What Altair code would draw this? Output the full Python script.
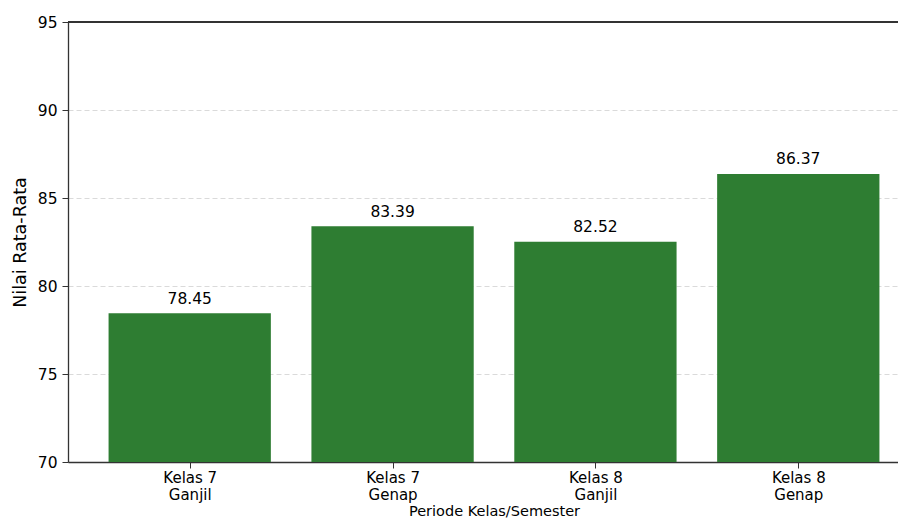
import altair as alt
import pandas as pd
import json

periods = ["Kelas 7\nGanjil", "Kelas 7\nGenap", "Kelas 8\nGanjil", "Kelas 8\nGenap"]
scores = [78.45, 83.39, 82.52, 86.37]
y_ticks = [70, 75, 80, 85, 90, 95]

BAR_W = 0.8
df = pd.DataFrame({"periode": periods, "nilai": scores})
df["idx"] = range(len(periods))
df["left"] = df["idx"] - BAR_W / 2
df["right"] = df["idx"] + BAR_W / 2

FONT = "DejaVu Sans"
W = 830        # visible plot width (the original figure is cut at the right edge)
FULL_W = 852   # full axis length of the original figure
H = 440
x_min = -0.6
x_max_full = len(periods) - 1 + 0.6
x_max = x_min + (x_max_full - x_min) * W / FULL_W

label_lines = json.dumps([p.split("\n") for p in periods])

LABEL_FS = 15.5
TITLE_FS = 17.5

x_scale = alt.Scale(domain=[x_min, x_max], nice=False, zero=False)
x_axis = alt.Axis(
    title="Periode Kelas/Semester",
    values=list(range(len(periods))),
    labelExpr=f"{label_lines}[datum.value]",
    labelAngle=0,
    labelLineHeight=17.5,
    labelFontSize=15,
    labelPadding=2,
    labelFlush=False,
    labelOverlap=False,
    titleFontSize=14.5,
    titleX=(FULL_W / 2),
    titleY=53,
    titleBaseline="alphabetic",
    grid=False,
)
y_enc = alt.Y(
    "nilai:Q",
    scale=alt.Scale(domain=[70, 95], nice=False, zero=False),
    axis=alt.Axis(
        title="Nilai Rata-Rata",
        values=y_ticks,
        format="d",
        labelFontSize=LABEL_FS,
        labelPadding=5,
        titleFontSize=TITLE_FS,
        titleX=-48,
        titleY=H / 2,
        titleAngle=-90,
        titleAlign="center",
        titleBaseline="middle",
        grid=True,
        gridDash=[5, 3],
        gridColor="#d0d0d0",
        gridWidth=0.8,
    ),
)

bars = alt.Chart(df).mark_bar(color="#2e7d32").encode(
    x=alt.X("left:Q", scale=x_scale, axis=x_axis),
    x2="right:Q",
    y=y_enc,
    y2=alt.datum(70),
)
labels = alt.Chart(df).mark_text(
    baseline="alphabetic", dy=-9.5, fontSize=LABEL_FS, font=FONT, color="black"
).encode(
    x=alt.X("idx:Q", scale=x_scale),
    y=alt.Y("nilai:Q"),
    text=alt.Text("nilai:Q", format=".2f"),
)
top = alt.Chart(df).mark_rule(color="#333333", strokeWidth=1.3).encode(
    x=alt.value(0), x2=alt.value(W), y=alt.value(0)
)

chart = (
    alt.layer(bars, labels, top)
    .properties(
        width=W,
        height=H,
        padding={"left": 60, "top": 14, "right": 0, "bottom": 57},
        autosize=alt.AutoSizeParams(type="none"),
    )
    .configure_view(stroke=None)
    .configure_axis(
        labelFont=FONT,
        titleFont=FONT,
        labelColor="black",
        titleColor="black",
        titleFontWeight="normal",
        domainColor="#333333",
        domainWidth=1.3,
        tickColor="#333333",
        tickSize=6,
        tickWidth=1,
    )
)

chart.save("out.html", embed_options={"renderer": "svg", "actions": False})
